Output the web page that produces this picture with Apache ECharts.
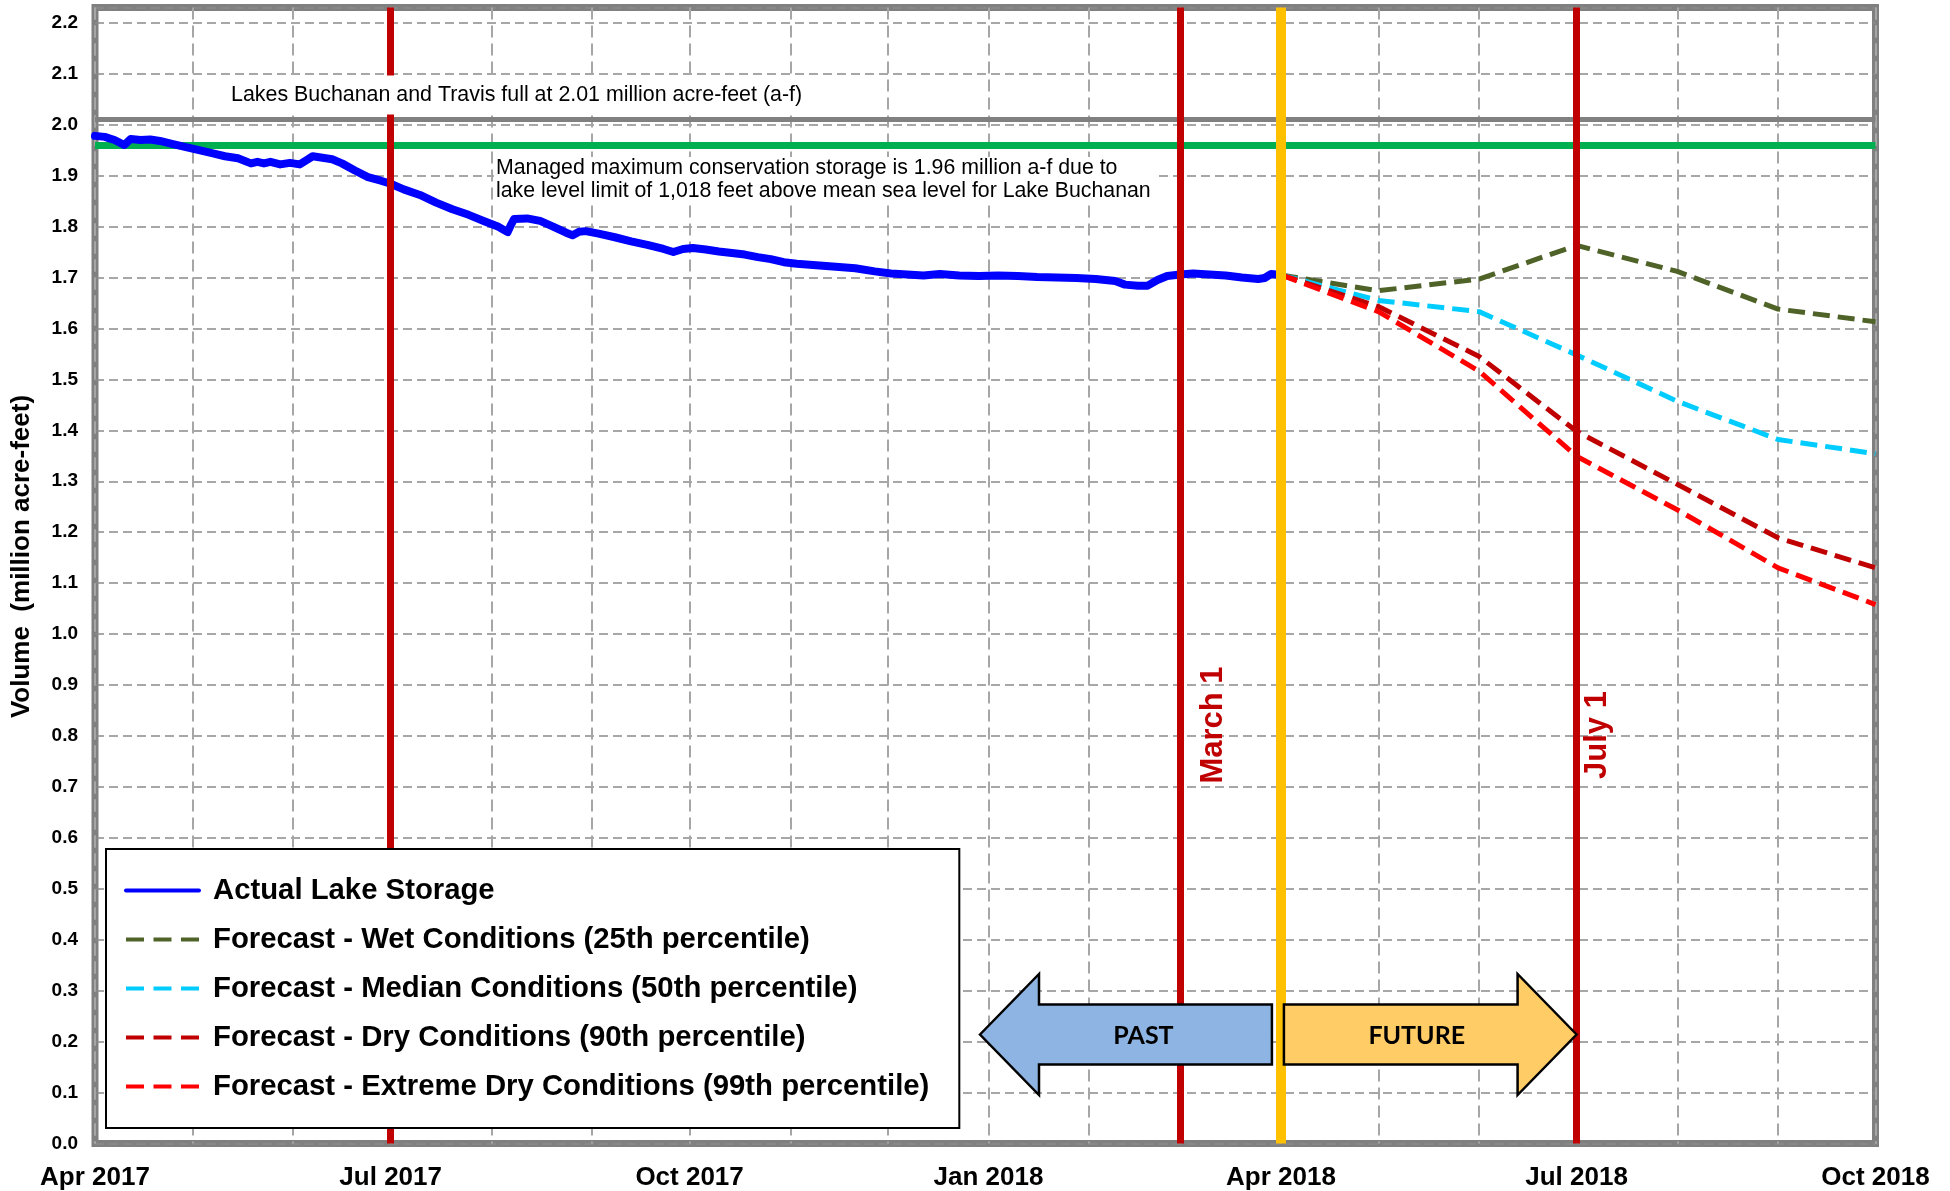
<!DOCTYPE html>
<html>
<head>
<meta charset="utf-8">
<script src="https://cdn.jsdelivr.net/npm/echarts@6/dist/echarts.min.js"></script>
<style>
html, body { margin: 0; padding: 0; background: #ffffff; }
#chart { width: 1950px; height: 1191px; }
</style>
</head>
<body>
<div id="chart"></div>
<script>
// ---------------- DATA ----------------
const xStart = '2017-04-01';
const xEnd = '2018-10-01';
const yMin = 0;
const yMax = 2.23;
const yStep = 0.1;
const monthNames = ['Jan','Feb','Mar','Apr','May','Jun','Jul','Aug','Sep','Oct','Nov','Dec'];

const seriesNames = [
  'Actual Lake Storage',
  'Forecast - Wet Conditions (25th percentile)',
  'Forecast - Median Conditions (50th percentile)',
  'Forecast - Dry Conditions (90th percentile)',
  'Forecast - Extreme Dry Conditions (99th percentile)'
];

const actualDates = [
  '2017-04-01','2017-04-04','2017-04-07','2017-04-10','2017-04-12','2017-04-15','2017-04-18','2017-04-21','2017-04-25','2017-04-29',
  '2017-05-03','2017-05-07','2017-05-11','2017-05-15','2017-05-19','2017-05-21','2017-05-23','2017-05-25','2017-05-28','2017-05-31',
  '2017-06-03','2017-06-05','2017-06-07','2017-06-10','2017-06-13','2017-06-16','2017-06-20','2017-06-24','2017-06-28',
  '2017-07-01','2017-07-05','2017-07-10','2017-07-15','2017-07-20','2017-07-25','2017-07-30',
  '2017-08-03','2017-08-06','2017-08-07','2017-08-08','2017-08-12','2017-08-16','2017-08-20','2017-08-24','2017-08-26','2017-08-28','2017-08-30',
  '2017-09-03','2017-09-08','2017-09-13','2017-09-18','2017-09-23','2017-09-26','2017-09-29',
  '2017-10-02','2017-10-06','2017-10-10','2017-10-14','2017-10-18','2017-10-22','2017-10-26','2017-10-30',
  '2017-11-03','2017-11-09','2017-11-15','2017-11-21','2017-11-27',
  '2017-12-02','2017-12-07','2017-12-12','2017-12-17','2017-12-23','2017-12-29',
  '2018-01-04','2018-01-10','2018-01-16','2018-01-22','2018-01-28',
  '2018-02-03','2018-02-09','2018-02-12','2018-02-16','2018-02-19','2018-02-22','2018-02-25',
  '2018-03-01','2018-03-05','2018-03-10','2018-03-15','2018-03-20','2018-03-25','2018-03-27','2018-03-29','2018-04-01'
];
const actualValues = [
  1.978,1.976,1.970,1.960,1.972,1.970,1.971,1.968,1.962,1.956,
  1.950,1.944,1.938,1.934,1.924,1.927,1.924,1.927,1.922,1.925,
  1.922,1.930,1.938,1.935,1.932,1.924,1.910,1.897,1.890,
  1.884,1.873,1.862,1.847,1.834,1.823,1.810,
  1.800,1.789,1.803,1.815,1.816,1.811,1.800,1.788,1.783,1.790,1.791,
  1.786,1.779,1.771,1.764,1.756,1.750,1.756,
  1.758,1.755,1.751,1.748,1.745,1.740,1.736,1.730,
  1.727,1.724,1.721,1.718,1.712,
  1.708,1.706,1.704,1.707,1.704,1.703,
  1.704,1.703,1.701,1.700,1.699,
  1.697,1.693,1.686,1.684,1.684,1.695,1.703,
  1.706,1.708,1.706,1.704,1.700,1.697,1.699,1.707,1.705
];

const forecastDates = ['2018-04-01','2018-05-01','2018-06-01','2018-07-01','2018-08-01','2018-09-01','2018-10-01'];
const wetValues     = [1.705, 1.674, 1.697, 1.763, 1.712, 1.638, 1.613];
const medianValues  = [1.705, 1.655, 1.633, 1.548, 1.457, 1.382, 1.354];
const dryValues     = [1.705, 1.643, 1.545, 1.398, 1.294, 1.189, 1.130];
const extremeValues = [1.705, 1.633, 1.516, 1.349, 1.244, 1.130, 1.058];

const fullLevel = 2.01;
const managedMax = 1.96;
const keyDates = ['2017-07-01', '2018-03-01', '2018-07-01'];
const nowDate = '2018-04-01';

const fullText = 'Lakes Buchanan and Travis full at 2.01 million acre-feet (a-f)';
const managedText = 'Managed maximum conservation storage is 1.96 million a-f due to\nlake level limit of 1,018 feet above mean sea level for Lake Buchanan';
const yTitle = 'Volume  (million acre-feet)';

// ---------------- HELPERS ----------------
const DAY = 86400000;
const t = s => { const p = s.split('-').map(Number); return Date.UTC(p[0], p[1] - 1, p[2]); };
const pairs = (dates, vals) => dates.map((d, i) => [t(d), vals[i]]);
const FONT = '"Liberation Sans", Arial, Helvetica, sans-serif';

const dashedSeries = (name, color, vals) => ({
  name: name, type: 'line', data: pairs(forecastDates, vals),
  symbol: 'none', showSymbol: false, z: 3,
  lineStyle: { color: color, width: 5, type: [17, 8] },
  itemStyle: { color: color }
});

const chart = echarts.init(document.getElementById('chart'), null, { renderer: 'canvas' });

const option = {
  useUTC: true,
  animation: false,
  backgroundColor: '#ffffff',
  grid: {
    left: 95, right: 74.5, top: 7.5, bottom: 47.5,
    show: true, borderColor: '#808080', borderWidth: 7, backgroundColor: 'transparent',
    containLabel: false, outerBoundsMode: 'none'
  },
  legend: {
    orient: 'vertical', left: 106, top: 849, z: 20,
    padding: [27, 30, 27, 18],
    itemWidth: 73, itemHeight: 20, itemGap: 20,
    backgroundColor: '#ffffff', borderColor: '#000000', borderWidth: 2,
    selectedMode: false,
    itemStyle: { opacity: 0 },
    textStyle: { fontFamily: FONT, fontWeight: 'bold', fontSize: 29.3, color: '#000000', padding: [0, 0, 0, 9] },
    data: seriesNames.map((n, i) => ({
      name: n,
      lineStyle: i === 0 ? { width: 4, type: 'solid' } : { width: 4, type: [18, 9.5] }
    }))
  },
  xAxis: {
    type: 'time', min: t(xStart), max: t(xEnd),
    minInterval: 28 * DAY, maxInterval: 31 * DAY,
    axisLine: { show: false }, axisTick: { show: false },
    splitLine: { show: true, lineStyle: { color: '#A6A6A6', width: 2, type: [12, 6] } },
    axisLabel: {
      fontFamily: FONT, fontWeight: 'bold', fontSize: 26, color: '#000000', margin: 21,
      hideOverlap: false, showMinLabel: true, showMaxLabel: true,
      formatter: function (v) {
        const d = new Date(v);
        if (d.getUTCDate() !== 1 || d.getUTCMonth() % 3 !== 0) return '';
        return monthNames[d.getUTCMonth()] + ' ' + d.getUTCFullYear();
      }
    }
  },
  yAxis: {
    type: 'value', min: yMin, max: yMax, interval: yStep,
    axisLine: { show: false }, axisTick: { show: false },
    splitLine: { show: true, lineStyle: { color: '#8A8A8A', width: 1.5, type: [9, 5] } },
    axisLabel: {
      fontFamily: FONT, fontWeight: 'bold', fontSize: 19, color: '#000000', margin: 17,
      showMaxLabel: false,
      formatter: function (v) {
        const r = Math.round(v * 10) / 10;
        return Math.abs(v - r) < 1e-6 ? r.toFixed(1) : '';
      }
    },
    name: yTitle, nameLocation: 'middle', nameRotate: 90, nameGap: 60,
    nameTextStyle: { fontFamily: FONT, fontWeight: 'bold', fontSize: 26, color: '#000000', padding: [0, 0, 0, 38] }
  },
  series: [
    {
      name: seriesNames[0], type: 'line', data: pairs(actualDates, actualValues),
      symbol: 'none', showSymbol: false, z: 4,
      lineStyle: { color: '#0000FF', width: 8, join: 'round', cap: 'round' },
      itemStyle: { color: '#0000FF' },
      markLine: {
        silent: true, z: 1, symbol: ['none', 'none'], label: { show: false },
        emphasis: { disabled: true },
        data: [
          { yAxis: fullLevel, lineStyle: { color: '#808080', width: 5, type: 'solid' } },
          { yAxis: managedMax, lineStyle: { color: '#00B050', width: 7, type: 'solid' } }
        ]
      }
    },
    Object.assign(dashedSeries(seriesNames[1], '#4F6228', wetValues), {
      markLine: {
        silent: true, z: 10, symbol: ['none', 'none'], label: { show: false },
        emphasis: { disabled: true },
        data: keyDates.map(d => ({ xAxis: t(d), lineStyle: { color: '#C00000', width: 7, type: 'solid' } }))
          .concat([{ xAxis: t(nowDate), lineStyle: { color: '#FFC000', width: 10, type: 'solid' } }])
      }
    }),
    dashedSeries(seriesNames[2], '#00CCFF', medianValues),
    dashedSeries(seriesNames[3], '#C00000', dryValues),
    dashedSeries(seriesNames[4], '#FF0000', extremeValues)
  ]
};

chart.setOption(option);

// ---------------- ANNOTATIONS ----------------
const xp = d => chart.convertToPixel({ xAxisIndex: 0 }, t(d));
const xMar = xp(keyDates[1]);
const xJul18 = xp(keyDates[2]);
const xNow = xp(nowDate);
const aY = 1034.5;          // arrow centre line (px)
const headH = 60.5, shaftH = 30, headL = 59;

const pastLeft = 980, pastRight = xNow - 9;
const futLeft = xNow + 3, futTip = xJul18;

option.graphic = {
  elements: [
    {
      type: 'text', x: 223, y: 95, z: 50, silent: true,
      style: {
        text: fullText, fill: '#000000', fontFamily: FONT, fontSize: 21.4,
        align: 'left', verticalAlign: 'middle',
        backgroundColor: '#ffffff', padding: [9, 8, 9, 8]
      }
    },
    {
      type: 'text', x: 494, y: 157, z: 50, silent: true,
      style: {
        text: managedText, fill: '#000000', fontFamily: FONT, fontSize: 21.3, lineHeight: 23,
        align: 'left', verticalAlign: 'top',
        backgroundColor: '#ffffff', padding: [0, 6, 0, 2]
      }
    },
    {
      type: 'text', x: xMar + 33, y: 725, rotation: Math.PI / 2, z: 50, silent: true,
      style: {
        text: 'March 1', fill: '#C00000', fontFamily: FONT, fontWeight: 'bold', fontSize: 31,
        align: 'center', verticalAlign: 'middle'
      }
    },
    {
      type: 'text', x: xJul18 + 21, y: 735, rotation: Math.PI / 2, z: 50, silent: true,
      style: {
        text: 'July 1', fill: '#C00000', fontFamily: FONT, fontWeight: 'bold', fontSize: 31,
        align: 'center', verticalAlign: 'middle'
      }
    },
    {
      type: 'polygon', z: 50, silent: true,
      shape: { points: [
        [pastLeft, aY], [pastLeft + headL, aY - headH], [pastLeft + headL, aY - shaftH],
        [pastRight, aY - shaftH], [pastRight, aY + shaftH], [pastLeft + headL, aY + shaftH],
        [pastLeft + headL, aY + headH]
      ] },
      style: { fill: '#8DB4E2', stroke: '#000000', lineWidth: 2.5, lineJoin: 'miter' }
    },
    {
      type: 'text', x: (pastLeft + headL + pastRight) / 2 - 12, y: aY + 1, z: 51, silent: true,
      style: { text: 'PAST', fill: '#000000', fontFamily: 'Lato, "Open Sans", sans-serif', fontWeight: 'bold', fontSize: 25, align: 'center', verticalAlign: 'middle' }
    },
    {
      type: 'polygon', z: 50, silent: true,
      shape: { points: [
        [futTip, aY], [futTip - headL, aY - headH], [futTip - headL, aY - shaftH],
        [futLeft, aY - shaftH], [futLeft, aY + shaftH], [futTip - headL, aY + shaftH],
        [futTip - headL, aY + headH]
      ] },
      style: { fill: '#FFCC66', stroke: '#000000', lineWidth: 2.5, lineJoin: 'miter' }
    },
    {
      type: 'text', x: (futLeft + futTip - headL) / 2 + 16, y: aY + 1, z: 51, silent: true,
      style: { text: 'FUTURE', fill: '#000000', fontFamily: 'Lato, "Open Sans", sans-serif', fontWeight: 'bold', fontSize: 25, align: 'center', verticalAlign: 'middle' }
    }
  ]
};
chart.setOption(option);
</script>
</body>
</html>
